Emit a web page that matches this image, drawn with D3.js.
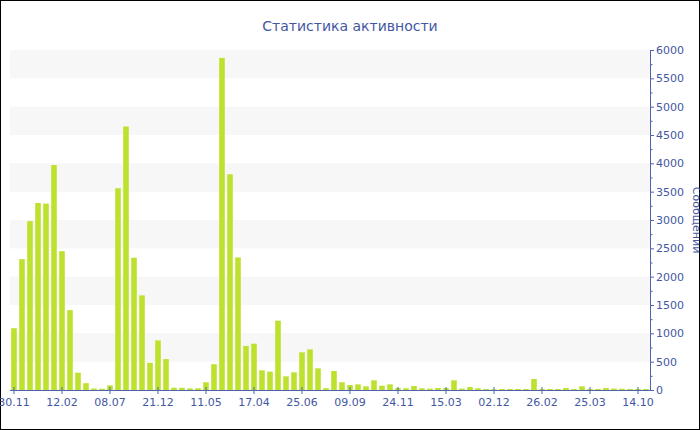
<!DOCTYPE html>
<html>
<head>
<meta charset="utf-8">
<script src="https://cdn.jsdelivr.net/npm/d3@7"></script>
<style>
  html, body { margin: 0; padding: 0; background: #fff; }
  svg { display: block; }
  text { font-family: "DejaVu Sans", Verdana, sans-serif; }
</style>
</head>
<body>
<svg id="chart" width="700" height="430"></svg>
<script>
// ---- data ----
const title = "Статистика активности";
const yTitle = "Сообщений";
const values = [
  1090, 2310, 2980, 3300, 3290, 3970, 2450, 1410, 305, 120,
  25, 22, 82, 3560, 4650, 2335, 1670, 480, 875, 545,
  40, 38, 28, 30, 136, 455, 5860, 3807, 2340, 777,
  818, 347, 324, 1224, 241, 312, 665, 718, 382, 32,
  335, 136, 88, 100, 65, 170, 77, 100, 35, 30,
  70, 30, 24, 35, 35, 171, 24, 53, 30, 18,
  12, 18, 18, 18, 18, 194, 18, 18, 18, 35,
  18, 65, 18, 18, 35, 25, 22, 18, 18, 18
];
const tickIndices = [0, 6, 12, 18, 24, 30, 36, 42, 48, 54, 60, 66, 72, 78];
const tickLabels = ["30.11", "12.02", "08.07", "21.12", "11.05", "17.04", "25.06",
                    "09.09", "24.11", "15.03", "02.12", "26.02", "25.03", "14.10"];
const yTicks = [0, 500, 1000, 1500, 2000, 2500, 3000, 3500, 4000, 4500, 5000, 5500, 6000];

// ---- layout ----
const W = 700, H = 430;
const mLeft = 10, mRight = 650, mTop = 50, mBottom = 390;
const textColor = "#4457a3";
const axisColor = "#4e64ad";
const barColor = "#bde22e";

const svg = d3.select("#chart");

const x = d3.scaleBand()
  .domain(d3.range(values.length))
  .range([mLeft, mRight])
  .paddingInner(0.3)
  .paddingOuter(0.15);

const y = d3.scaleLinear().domain([0, 6000]).range([mBottom, mTop]);

// background
svg.append("rect").attr("x", 0.5).attr("y", 0.5).attr("width", W - 1).attr("height", H - 1)
  .attr("fill", "#fff").attr("stroke", "#000").attr("stroke-width", 1);

// alternating bands
const bandStarts = yTicks.filter((d, i) => i % 2 === 1 && d < 6000);
svg.append("g").selectAll("rect").data(bandStarts).join("rect")
  .attr("x", mLeft).attr("width", mRight - mLeft)
  .attr("y", d => y(d + 500)).attr("height", d => y(d) - y(d + 500))
  .attr("fill", "#f7f7f7");

// bars
svg.append("g").selectAll("rect").data(values).join("rect")
  .attr("x", (d, i) => x(i))
  .attr("width", x.bandwidth())
  .attr("y", d => y(d))
  .attr("height", d => mBottom - y(d))
  .attr("fill", barColor);

// title
svg.append("text").attr("x", 350).attr("y", 31)
  .attr("text-anchor", "middle").attr("font-size", 14)
  .attr("fill", textColor).text(title);

// x axis
const labelByIndex = new Map(tickIndices.map((d, i) => [d, tickLabels[i]]));
const xAxis = svg.append("g").attr("transform", `translate(0,${mBottom})`)
  .call(d3.axisBottom(x).tickValues(tickIndices).tickFormat(d => labelByIndex.get(d))
    .tickSizeInner(4).tickSizeOuter(0).tickPadding(4));
xAxis.select(".domain").attr("stroke", axisColor).attr("d", `M${mLeft},0.5H${mRight}`);
xAxis.selectAll(".tick line").attr("stroke", axisColor).attr("y1", -3).attr("y2", 4);
xAxis.selectAll(".tick text").attr("fill", textColor).attr("font-size", 11)
  .attr("font-family", "DejaVu Sans, Verdana, sans-serif");

// y axis (right)
const yAxis = svg.append("g").attr("transform", `translate(${mRight},0)`)
  .call(d3.axisRight(y).tickValues(yTicks).tickSizeInner(4).tickSizeOuter(0).tickPadding(2)
    .tickFormat(d3.format("d")));
yAxis.select(".domain").attr("stroke", axisColor);
yAxis.selectAll(".tick line").attr("stroke", axisColor);
yAxis.selectAll(".tick text").attr("fill", textColor).attr("font-size", 11)
  .attr("font-family", "DejaVu Sans, Verdana, sans-serif");

// minor y ticks
const minor = d3.range(250, 6000, 500);
svg.append("g").selectAll("line").data(minor).join("line")
  .attr("x1", mRight).attr("x2", mRight + 2.5)
  .attr("y1", d => y(d) + 0.5).attr("y2", d => y(d) + 0.5)
  .attr("stroke", axisColor);

// y title
svg.append("text")
  .attr("transform", `translate(693,${(mTop + mBottom) / 2}) rotate(90)`)
  .attr("text-anchor", "middle").attr("font-size", 11)
  .attr("fill", textColor).text(yTitle);
</script>
</body>
</html>
